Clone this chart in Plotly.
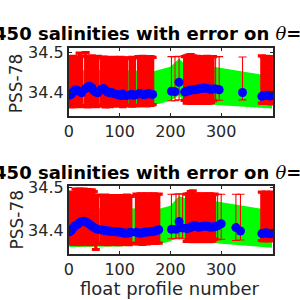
import plotly.graph_objects as go

# ---------------- top panel data ----------------
top_prof = [1, 5, 9, 13, 17, 21, 25, 33, 37, 41, 45, 49, 53, 57, 64, 68, 72, 76, 80, 84, 88,
            94, 98, 102, 106, 110, 114, 121, 125, 129, 137, 141, 145, 149, 153, 157, 161, 165,
            202, 209, 217, 228,
            232, 236, 240, 244, 248, 252, 256, 260, 264, 268, 272, 276, 280,
            284, 289, 296, 342,
            380, 384, 388, 392, 396, 399]
top_sal = [34.392, 34.395, 34.401, 34.406, 34.404, 34.401, 34.398, 34.409, 34.413, 34.415, 34.411, 34.404, 34.400, 34.398, 34.407, 34.409, 34.404, 34.400, 34.398, 34.399, 34.396,
           34.394, 34.393, 34.391, 34.395, 34.392, 34.391, 34.393, 34.394, 34.392, 34.395, 34.396, 34.394, 34.393, 34.395, 34.396, 34.395, 34.394,
           34.402, 34.401, 34.425, 34.400,
           34.402, 34.403, 34.405, 34.406, 34.406, 34.407, 34.408, 34.409, 34.410, 34.410, 34.409, 34.408, 34.407,
           34.408, 34.408, 34.406, 34.399,
           34.389, 34.391, 34.392, 34.392, 34.390, 34.391]
top_hi = [34.490, 34.488, 34.491, 34.489, 34.487, 34.499, 34.491, 34.500, 34.490, 34.488, 34.492, 34.487, 34.489, 34.491, 34.487, 34.489, 34.488, 34.486, 34.485, 34.487, 34.488,
          34.486, 34.487, 34.488, 34.486, 34.485, 34.487, 34.486, 34.488, 34.487, 34.490, 34.489, 34.491, 34.490, 34.488, 34.489, 34.490, 34.488,
          34.490, 34.490, 34.491, 34.490,
          34.492, 34.494, 34.495, 34.492, 34.490, 34.491, 34.489, 34.490, 34.489, 34.490, 34.491, 34.489, 34.490,
          34.490, 34.490, 34.490, 34.489,
          34.492, 34.490, 34.491, 34.489, 34.490, 34.489]
top_lo = [34.366, 34.362, 34.364, 34.367, 34.365, 34.363, 34.366, 34.364, 34.362, 34.365, 34.366, 34.364, 34.363, 34.366, 34.367, 34.364, 34.362, 34.365, 34.363, 34.366, 34.364,
          34.366, 34.368, 34.365, 34.363, 34.366, 34.367, 34.365, 34.364, 34.366, 34.365, 34.367, 34.368, 34.366, 34.365, 34.367, 34.366, 34.368,
          34.378, 34.378, 34.380, 34.379,
          34.372, 34.373, 34.371, 34.372, 34.373, 34.372, 34.371, 34.372, 34.373, 34.372, 34.371, 34.372, 34.373,
          34.378, 34.378, 34.379, 34.380,
          34.372, 34.371, 34.373, 34.372, 34.371, 34.370]
top_band_prof = [1, 100, 165, 200, 217, 230, 285, 342, 400]
top_band_hi = [34.455, 34.456, 34.452, 34.464, 34.485, 34.468, 34.464, 34.452, 34.440]
top_band_lo = [34.363, 34.362, 34.366, 34.378, 34.392, 34.372, 34.368, 34.363, 34.358]

# ---------------- bottom panel data ----------------
bot_prof = [1, 5, 9, 13, 17, 21, 25, 29, 33, 37, 41, 45, 49, 53, 57, 64, 68, 72, 76, 80, 84, 88,
            94, 98, 102, 106, 110, 114, 118, 122, 133, 137, 141, 145, 149, 153, 157, 161, 165, 169, 173, 177,
            202, 211, 217, 224,
            232, 236, 240, 244, 248, 252, 256, 260, 264, 268, 272, 276, 280, 283,
            287, 293, 300, 329, 338,
            380, 384, 388, 392, 396, 399]
bot_sal = [34.396, 34.400, 34.406, 34.411, 34.414, 34.418, 34.420, 34.421, 34.419, 34.417, 34.414, 34.410, 34.406, 34.404, 34.402, 34.401, 34.400, 34.399, 34.398, 34.398, 34.397, 34.397,
           34.396, 34.396, 34.395, 34.394, 34.393, 34.393, 34.394, 34.395, 34.395, 34.394, 34.393, 34.394, 34.395, 34.396, 34.396, 34.397, 34.397, 34.398, 34.399, 34.401,
           34.402, 34.402, 34.420, 34.405,
           34.404, 34.405, 34.406, 34.410, 34.411, 34.408, 34.407, 34.408, 34.409, 34.410, 34.409, 34.408, 34.407, 34.408,
           34.408, 34.410, 34.415, 34.406, 34.398,
           34.392, 34.393, 34.394, 34.393, 34.392, 34.393]
bot_hi = [34.488, 34.489, 34.487, 34.496, 34.495, 34.496, 34.494, 34.496, 34.494, 34.495, 34.493, 34.494, 34.490, 34.481, 34.482, 34.480, 34.481, 34.482, 34.480, 34.479, 34.481, 34.480,
          34.481, 34.480, 34.479, 34.481, 34.480, 34.482, 34.480, 34.479, 34.484, 34.483, 34.485, 34.484, 34.483, 34.485, 34.484, 34.483, 34.485, 34.484, 34.483, 34.484,
          34.484, 34.484, 34.485, 34.484,
          34.484, 34.485, 34.490, 34.492, 34.485, 34.484, 34.483, 34.485, 34.484, 34.483, 34.484, 34.485, 34.484, 34.483,
          34.484, 34.484, 34.484, 34.484, 34.484,
          34.489, 34.488, 34.489, 34.487, 34.488, 34.489]
bot_lo = [34.372, 34.369, 34.367, 34.370, 34.368, 34.366, 34.369, 34.367, 34.370, 34.368, 34.366, 34.369, 34.367, 34.355, 34.368, 34.370, 34.367, 34.369, 34.366, 34.368, 34.370, 34.367,
          34.368, 34.366, 34.369, 34.367, 34.370, 34.368, 34.366, 34.369, 34.370, 34.368, 34.369, 34.367, 34.370, 34.368, 34.369, 34.371, 34.370, 34.369, 34.371, 34.370,
          34.380, 34.380, 34.382, 34.380,
          34.374, 34.375, 34.374, 34.373, 34.374, 34.375, 34.374, 34.373, 34.374, 34.375, 34.374, 34.373, 34.374, 34.375,
          34.379, 34.378, 34.379, 34.376, 34.377,
          34.376, 34.375, 34.376, 34.377, 34.375, 34.376]
bot_band_prof = [1, 100, 178, 200, 217, 232, 283, 342, 400]
bot_band_hi = [34.450, 34.451, 34.450, 34.457, 34.480, 34.473, 34.469, 34.457, 34.446]
bot_band_lo = [34.361, 34.362, 34.367, 34.374, 34.386, 34.374, 34.370, 34.365, 34.359]

title_text = ("<b>3901450 salinities with error on </b>"
              "<span style=\"font-family:DejaVu Serif;font-weight:normal\"><i>θ</i></span>"
              "<b>=2.5°C</b>")
xtick_vals = [0, 100, 200, 300]
ytick_vals = [34.4, 34.5]

W = 300
H = 300
FONT = "DejaVu Sans"
AX = "#262626"

fig = go.Figure()


def add_panel(fig, xa, ya, prof, sal, hi, lo, bprof, bhi, blo):
    # green band: closed polygon
    fig.add_trace(go.Scatter(
        x=bprof + bprof[::-1], y=bhi + blo[::-1], fill="toself",
        fillcolor="rgb(0,255,0)", line=dict(width=0), mode="lines",
        xaxis=xa, yaxis=ya, hoverinfo="skip", showlegend=False))
    # split error bars by density (thin isolated bars vs dense blocks)
    dense_idx, sparse_idx = [], []
    for i, p in enumerate(prof):
        d = min([abs(p - q) for j, q in enumerate(prof) if j != i])
        (dense_idx if d <= 4 else sparse_idx).append(i)
    for idx, th in ((dense_idx, 3.2), (sparse_idx, 1.1)):
        fig.add_trace(go.Scatter(
            x=[prof[i] for i in idx], y=[sal[i] for i in idx], mode="markers",
            marker=dict(size=1, color="rgba(0,0,0,0)"),
            error_y=dict(type="data", symmetric=False,
                         array=[hi[i] - sal[i] for i in idx],
                         arrayminus=[sal[i] - lo[i] for i in idx],
                         color="rgb(255,0,0)", thickness=th, width=4),
            xaxis=xa, yaxis=ya, hoverinfo="skip", showlegend=False))
    fig.add_trace(go.Scatter(
        x=prof, y=sal, mode="markers",
        marker=dict(size=9, color="rgb(0,0,255)", line=dict(width=0)),
        xaxis=xa, yaxis=ya, hoverinfo="skip", showlegend=False))


add_panel(fig, "x", "y", top_prof, top_sal, top_hi, top_lo, top_band_prof, top_band_hi, top_band_lo)
add_panel(fig, "x2", "y2", bot_prof, bot_sal, bot_hi, bot_lo, bot_band_prof, bot_band_hi, bot_band_lo)

xdom = [65 / W, 272.5 / W]
axis_common = dict(showline=True, linecolor=AX, linewidth=2, mirror="ticks",
                   ticks="inside", ticklen=3, tickwidth=1, tickcolor=AX,
                   showgrid=False, zeroline=False,
                   tickfont=dict(family=FONT, size=16, color=AX))

fig.update_layout(
    width=W, height=H, margin=dict(l=0, r=0, t=0, b=0),
    paper_bgcolor="white", plot_bgcolor="white", showlegend=False,
    xaxis=dict(domain=xdom, range=[0, 402], tickvals=xtick_vals, anchor="y", **axis_common),
    yaxis=dict(domain=[1 - 111 / H, 1 - 41.5 / H], range=[34.339, 34.511], tickvals=ytick_vals,
               tickformat=".1f", anchor="x", **axis_common),
    xaxis2=dict(domain=xdom, range=[0, 402], tickvals=xtick_vals, anchor="y2", **axis_common),
    yaxis2=dict(domain=[1 - 252.5 / H, 1 - 182.5 / H], range=[34.345, 34.504], tickvals=ytick_vals,
                tickformat=".1f", anchor="x2", **axis_common),
)

annots = []
for yc in (26.5, 169.0):
    annots.append(dict(text=title_text, xref="paper", yref="paper",
                       x=-64 / W, y=1 - yc / H, xanchor="left", yanchor="middle",
                       showarrow=False, font=dict(family=FONT, size=18, color="black")))
for yc in (77.5, 217.5):
    annots.append(dict(text="PSS-78", xref="paper", yref="paper", x=12 / W, y=1 - yc / H,
                       xanchor="center", yanchor="middle", textangle=-90, showarrow=False,
                       font=dict(family=FONT, size=17, color=AX)))
annots.append(dict(text="float profile number", xref="paper", yref="paper", x=168 / W, y=1 - 288 / H,
                   xanchor="center", yanchor="middle", showarrow=False,
                   font=dict(family=FONT, size=18, color=AX)))
fig.update_layout(annotations=annots)

fig.write_html("out.html")
